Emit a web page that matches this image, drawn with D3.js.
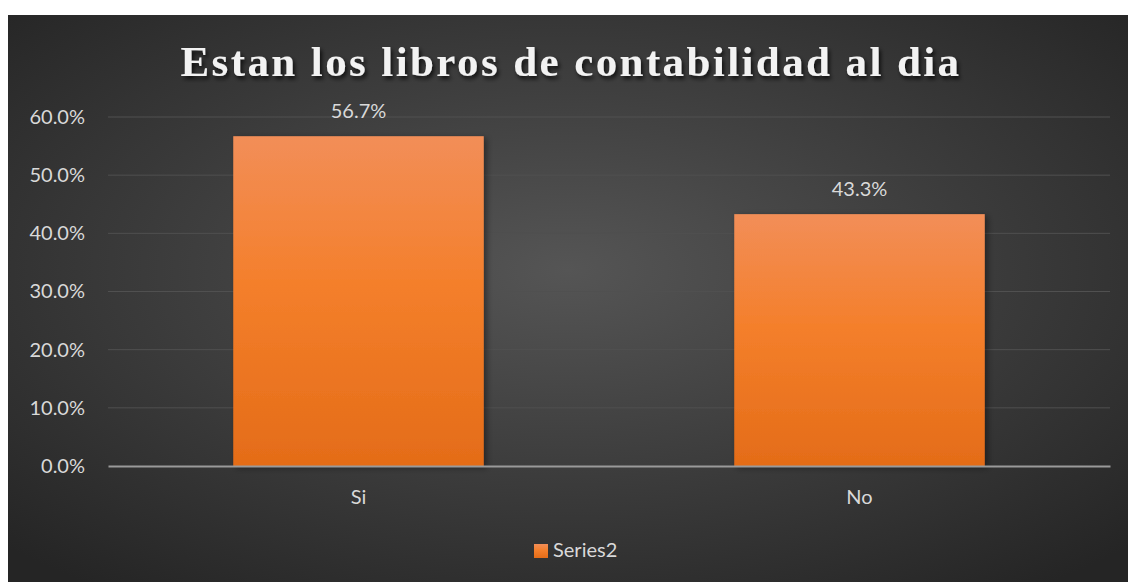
<!DOCTYPE html>
<html>
<head>
<meta charset="utf-8">
<script src="https://cdn.jsdelivr.net/npm/d3@7"></script>
<style>
  body { margin: 0; background: #fff; }
  svg { display: block; }
</style>
</head>
<body>
<div id="chart"></div>
<script>
// data
let categories = ['Si', 'No']
let values = [0.567, 0.433]
let yTicks = [0, 0.1, 0.2, 0.3, 0.4, 0.5, 0.6]
let seriesName = 'Series2'
let title = 'Estan los libros de contabilidad al dia'

let W = 1128
let H = 582
let margin = { top: 117, left: 108, right: 18, bottom: 116 }
let width = W - margin.left - margin.right
let height = H - margin.top - margin.bottom

let svg = d3.select('#chart').append('svg')
  .attr('width', W)
  .attr('height', H)

let defs = svg.append('defs')

let bg = defs.append('radialGradient')
  .attr('id', 'bg')
  .attr('cx', '50%').attr('cy', '45%').attr('r', '70%')
bg.append('stop').attr('offset', '0%').attr('stop-color', '#555555')
bg.append('stop').attr('offset', '100%').attr('stop-color', '#252525')

let barGrad = defs.append('linearGradient')
  .attr('id', 'bar')
  .attr('x1', 0).attr('y1', 0).attr('x2', 0).attr('y2', 1)
barGrad.append('stop').attr('offset', '0%').attr('stop-color', '#f28e58')
barGrad.append('stop').attr('offset', '45%').attr('stop-color', '#f47f2b')
barGrad.append('stop').attr('offset', '100%').attr('stop-color', '#e46c18')

let shadow = defs.append('filter').attr('id', 'shadow')
  .attr('x', '-10%').attr('y', '-20%').attr('width', '120%').attr('height', '160%')
shadow.append('feDropShadow')
  .attr('dx', 2).attr('dy', 3).attr('stdDeviation', 2)
  .attr('flood-color', '#000').attr('flood-opacity', 0.75)

let barShadow = defs.append('filter').attr('id', 'barShadow')
  .attr('x', '-10%').attr('y', '-10%').attr('width', '125%').attr('height', '120%')
barShadow.append('feDropShadow')
  .attr('dx', 3).attr('dy', 2).attr('stdDeviation', 3)
  .attr('flood-color', '#000').attr('flood-opacity', 0.4)

// background
svg.append('rect')
  .attr('x', 8).attr('y', 15)
  .attr('width', W - 8).attr('height', H - 15)
  .attr('fill', 'url(#bg)')

// title
svg.append('text')
  .attr('x', 571)
  .attr('y', 76)
  .attr('text-anchor', 'middle')
  .attr('font-family', 'Liberation Serif, Times New Roman, serif')
  .attr('font-weight', 'bold')
  .attr('font-size', 43)
  .attr('letter-spacing', 2.4)
  .attr('fill', '#f2f2f2')
  .attr('filter', 'url(#shadow)')
  .text(title)

let g = svg.append('g')
  .attr('transform', 'translate(' + margin.left + ',' + margin.top + ')')

let x = d3.scaleBand()
  .domain(categories)
  .range([0, width])
  .paddingInner(0.5)
  .paddingOuter(0.25)

let y = d3.scaleLinear()
  .domain([0, 0.6])
  .range([height, 0])

// gridlines
g.append('g')
  .selectAll('line')
  .data(yTicks.slice(1))
  .enter()
  .append('line')
  .attr('x1', 0).attr('x2', width)
  .attr('y1', d => y(d)).attr('y2', d => y(d))
  .attr('stroke', '#505050')
  .attr('stroke-width', 1)

// y axis labels
let yAxis = d3.axisLeft(y)
  .tickValues(yTicks)
  .tickFormat(d3.format('.1%'))
  .tickSize(0)
  .tickPadding(23)
g.append('g')
  .attr('class', 'y-axis')
  .call(yAxis)
  .call(s => s.select('.domain').remove())
  .selectAll('text')
  .attr('font-family', 'Lato, Carlito, Calibri, sans-serif')
  .attr('font-size', 20)
  .attr('fill', '#d9d9d9')

// bars
g.selectAll('.bar')
  .data(values)
  .enter()
  .append('rect')
  .attr('class', 'bar')
  .attr('x', (d, i) => x(categories[i]))
  .attr('width', x.bandwidth())
  .attr('y', d => y(d))
  .attr('height', d => y(0) - y(d))
  .attr('fill', 'url(#bar)')
  .attr('filter', 'url(#barShadow)')

// data labels
g.selectAll('.label')
  .data(values)
  .enter()
  .append('text')
  .attr('class', 'label')
  .attr('x', (d, i) => x(categories[i]) + x.bandwidth() / 2)
  .attr('y', d => y(d) - 18)
  .attr('text-anchor', 'middle')
  .attr('font-family', 'Lato, Carlito, Calibri, sans-serif')
  .attr('font-size', 20)
  .attr('fill', '#d9d9d9')
  .text(d => d3.format('.1%')(d))

// x axis
let xAxis = d3.axisBottom(x).tickSize(0).tickPadding(24)
g.append('g')
  .attr('class', 'x-axis')
  .attr('transform', 'translate(0,' + height + ')')
  .call(xAxis)
  .call(s => s.select('.domain')
    .attr('stroke', '#9a9a9a')
    .attr('stroke-width', 2))
  .selectAll('text')
  .attr('font-family', 'Lato, Carlito, Calibri, sans-serif')
  .attr('font-size', 20)
  .attr('fill', '#d9d9d9')

// legend
let legend = svg.append('g')
  .attr('transform', 'translate(534,544)')
legend.append('rect')
  .attr('width', 14).attr('height', 14)
  .attr('fill', 'url(#bar)')
legend.append('text')
  .attr('x', 19)
  .attr('y', 13)
  .attr('font-family', 'Lato, Carlito, Calibri, sans-serif')
  .attr('font-size', 20)
  .attr('fill', '#d9d9d9')
  .text(seriesName)
</script>
</body>
</html>
